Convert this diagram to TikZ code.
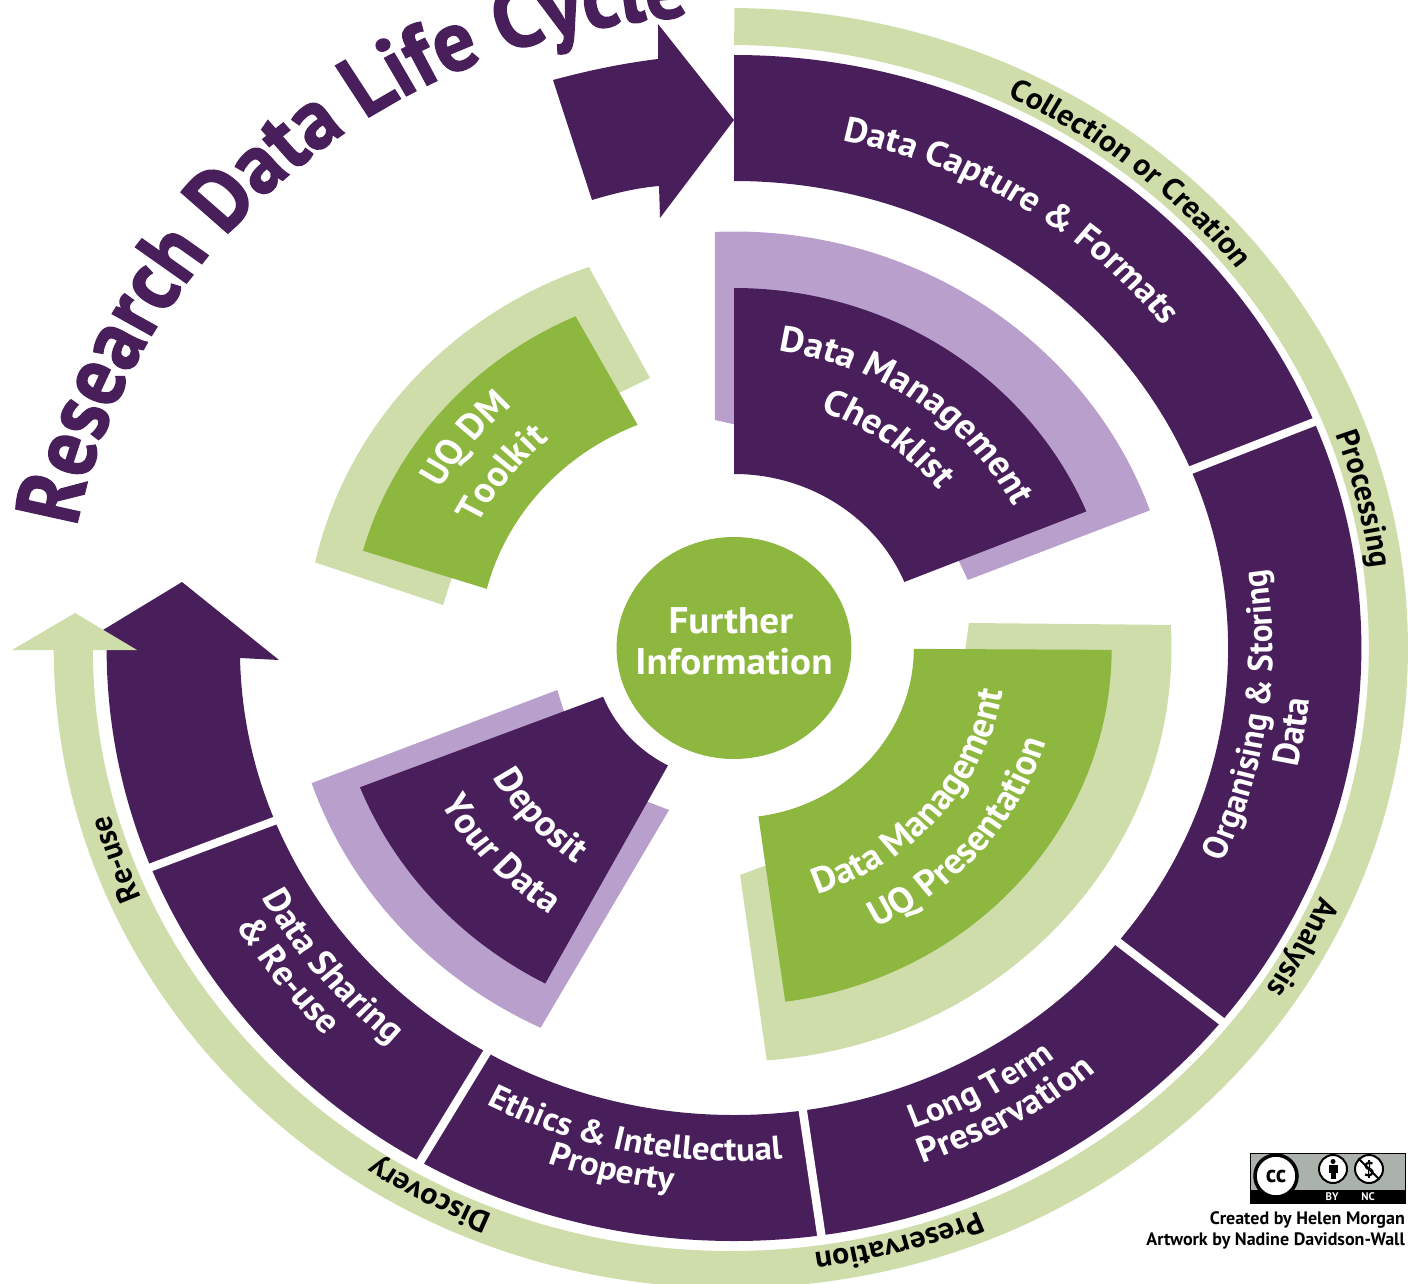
\documentclass[tikz,border=0pt]{standalone}
\usepackage{fontspec}
\setmainfont{PT Sans}
\newfontfamily\titlefamily[FakeStretch=0.92,FakeBold=1.5]{PT Sans}
\usetikzlibrary{decorations.text}
\definecolor{uqpurple}{HTML}{481E5B}
\definecolor{uqlilac}{HTML}{B9A0CC}
\definecolor{uqgreen}{HTML}{8DB73F}
\definecolor{uqpale}{HTML}{CFDDAB}
\definecolor{ccgrey}{HTML}{AAB2AB}
\tikzstyle{ring}=[fill=uqpurple]
\tikzstyle{pale}=[fill=uqpale]
\tikzstyle{lilac}=[fill=uqlilac]
\tikzstyle{leaf}=[fill=uqgreen]
\tikzstyle{gap}=[draw=white,line width=8pt]
\tikzstyle{onpale}=[shift={(-3,0)}]
\newcommand{\bigfont}{\bfseries\fontsize{36}{36}\selectfont}
\newcommand{\midfont}{\bfseries\fontsize{33}{33}\selectfont}
\newcommand{\palefont}{\bfseries\fontsize{30}{30}\selectfont}
\newcommand{\whitetext}{\color{white}}
% text on an arc: options, radius, start, end, text
\newcommand{\arctext}[5]{\path[#1,decorate,decoration={text along path,text align=center,text={#5}}]
  (#3:#2) arc[start angle=#3,end angle=#4,radius=#2];}
% band piece: style, inner radius, outer radius, start, end
\newcommand{\band}[5]{\fill[#1] (#4:#3) arc[start angle=#4,end angle=#5,radius=#3]
  -- (#5:#2) arc[start angle=#5,end angle=#4,radius=#2] -- cycle;}
\begin{document}
\begin{tikzpicture}[x=1pt,y=1pt]
  \useasboundingbox (0,0) rectangle (1408,-1284);

  \begin{scope}[transform canvas={shift={(734,-648)},xscale=1.058}]
    % Title
    \path[decorate,decoration={text along path,text align=left,
      text={|\color{uqpurple}\titlefamily\bfseries\fontsize{86}{86}\selectfont|Research Data Life Cycle}}]
      (169:633) arc[start angle=169,end angle=70,radius=633];

    % Outer bands
    \band{pale,onpale}{603}{640}{89.7}{-180}
    \band{ring}{467}{593}{90}{-180}
    \draw[gap] (22.4:460) -- (22.4:600);
    \draw[gap] (-39:460) -- (-39:600);
    \draw[gap] (-82:460) -- (-82:600);
    \draw[gap] (-120:460) -- (-120:600);
    \draw[gap] (-158.3:460) -- (-158.3:600);

    % Inner sectors, backing shapes first
    \fill[lilac] (92.5:416.5) arc[start angle=92.5,end angle=19.3,radius=416.5] -- (221,68) -- (196,124) -- (100,200) -- (-18,228) -- cycle;
    \band{ring}{174}{360}{90}{22.3}
    \fill[pale] (109.8:405) arc[start angle=109.8,end angle=167.8,radius=405] -- (-275,43) -- (-230,193) -- (-79.4,270) -- cycle;
    \fill[leaf] (114.3:364) arc[start angle=114.3,end angle=164.5,radius=364] -- (165.8:241) arc[start angle=165.8,end angle=112.2,radius=241] -- cycle;
    \fill[pale] (3.2:413.5) arc[start angle=3.2,end angle=-85.7,radius=413.5] -- (5.7,-227) -- (200,-150) -- (222,25) -- cycle;
    \band{leaf}{170}{357}{-0.3}{-82.2}
    \fill[lilac] (198.7:421.5) arc[start angle=198.7,end angle=244.3,radius=421.5] -- (-61.4,-162) -- (-81,-154) -- (-150,-100) -- (-167,-42) -- cycle;
    \band{ring}{133}{380}{201.5}{242}

    % Centre
    \node[circle,fill=uqgreen,minimum size=222pt,inner sep=0pt] (info) at (0,0) {};
    \node[text=white,font=\bfseries\fontsize{37}{37}\selectfont,inner sep=0pt] (further) at (-3,27) {Further};
    \node[text=white,font=\bfseries\fontsize{37}{37}\selectfont,inner sep=0pt] (information) at (0,-14) {Information};

    % Labels on the pale band
    \arctext{onpale}{610}{70}{33}{|\palefont|Collection or Creation}
    \arctext{onpale}{610}{25}{3}{|\palefont|Processing}
    \arctext{onpale}{610}{-15}{-43}{|\palefont|Analysis}
    \arctext{onpale}{610}{-60}{-90}{|\palefont|Preservation}
    \arctext{onpale}{610}{-100}{-135}{|\palefont|Discovery}
    \arctext{onpale}{610}{-148}{-172}{|\palefont|Re-use}

    % Labels on the purple band
    \arctext{}{518}{85}{32}{|\whitetext\fontsize{35}{35}\bfseries\selectfont|Data Capture {\&} Formats}
    \arctext{}{509}{-50}{34}{|\whitetext\midfont|Organising {\&} Storing}
    \arctext{}{546}{-31}{13}{|\whitetext\bfseries\fontsize{35}{35}\selectfont|Data}
    \arctext{}{510}{-82}{-42}{|\whitetext\midfont|Long Term}
    \arctext{}{545}{-81}{-41}{|\whitetext\bfseries\fontsize{35}{35}\selectfont|Preservation}
    \arctext{}{513}{-121}{-81}{|\whitetext\midfont|Ethics {\&} Intellectual}
    \arctext{}{545}{-122}{-83}{|\whitetext\midfont|Property}
    \arctext{}{512}{-160}{-120}{|\whitetext\bfseries\fontsize{35}{35}\selectfont|Data Sharing}
    \arctext{}{547}{-161.7}{-122.7}{|\whitetext\bfseries\fontsize{35}{35}\selectfont|{\&} Re-use}

    % Labels on the inner sectors
    \arctext{}{300}{90}{20}{|\whitetext\bigfont|Data Management}
    \arctext{}{250}{90}{20}{|\whitetext\bigfont|Checklist}
    \arctext{}{320}{174}{107}{|\whitetext\bigfont|UQ DM}
    \arctext{}{272}{175}{108}{|\whitetext\bigfont|Toolkit}
    \arctext{}{258}{-89}{7}{|\whitetext\bigfont|Data Management}
    \arctext{}{310}{-85}{3}{|\whitetext\bigfont|UQ Presentation}
    \arctext{}{262}{-170.5}{-104.5}{|\whitetext\bigfont|Deposit}
    \arctext{}{318}{-171}{-103}{|\whitetext\bigfont|Your Data}
  \end{scope}

  % Arrow heads
  \fill[uqpurple] (553,-80) .. controls (590,-70) and (625,-63) .. (658,-59) -- (658,-24) -- (734,-120) -- (660,-218) -- (659,-186)
    .. controls (635,-188) and (612,-194) .. (592,-200) -- cycle;
  \fill[uqpurple] (107,-650) -- (103,-630) -- (182,-582) -- (279,-660) -- (240,-658) -- (240,-650) -- cycle;
  \fill[uqpale] (12,-650) -- (75,-613) -- (137,-650) -- cycle;

  % Licence badge
  \node[draw=black,fill=ccgrey,line width=1pt,minimum width=155pt,minimum height=50pt,inner sep=0pt] (badge) at (1327.5,-1178) {};
  \fill[black] (badge.south west) rectangle (1405,-1190);
  \node[circle,draw=black,fill=white,line width=3.5pt,minimum size=42pt,inner sep=0pt,font=\bfseries\fontsize{24}{24}\selectfont] (cc) at (1276,-1176) {cc};
  \node[circle,draw=black,fill=white,line width=2pt,minimum size=28pt,inner sep=0pt] (by) at (1333,-1169) {};
  \fill[black] (1333,-1161.5) circle (2.5pt);
  \fill[black] (1328.5,-1165) rectangle (1337.5,-1173);
  \fill[black] (1330.5,-1173) rectangle (1335.5,-1179);
  \node[circle,draw=black,fill=white,line width=2pt,minimum size=28pt,inner sep=0pt,font=\bfseries\fontsize{20}{20}\selectfont] (nc) at (1369,-1169) {\$};
  \draw[black,line width=2pt] (nc.north west) -- (nc.south east);
  \node[text=white,font=\bfseries\fontsize{11}{11}\selectfont,inner sep=0pt] (bylabel) at (1332,-1197) {BY};
  \node[text=white,font=\bfseries\fontsize{11}{11}\selectfont,inner sep=0pt] (nclabel) at (1368,-1197) {NC};
  \node[anchor=east,font=\bfseries\fontsize{18}{18}\selectfont,inner sep=0pt] (created) at (1405,-1220) {Created by Helen Morgan};
  \node[anchor=east,font=\bfseries\fontsize{18}{18}\selectfont,inner sep=0pt] (artwork) at (1405,-1241) {Artwork by Nadine Davidson-Wall};
\end{tikzpicture}
\end{document}
